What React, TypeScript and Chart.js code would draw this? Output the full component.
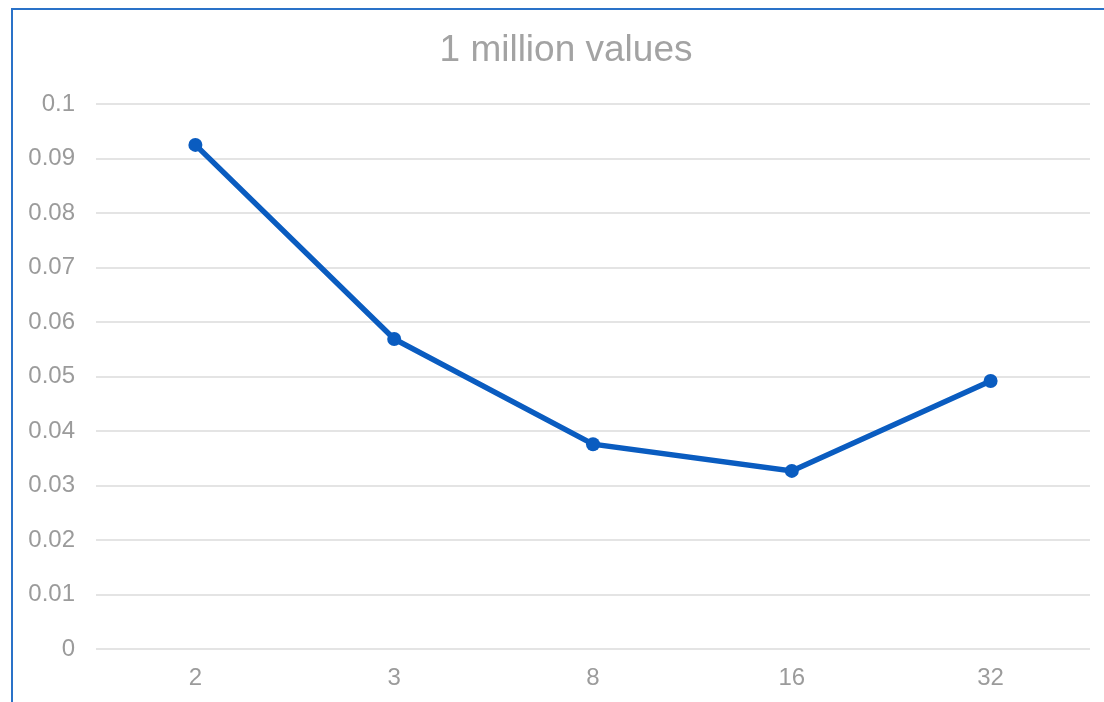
import React, { useEffect, useRef } from "react";
import { Chart, registerables } from "chart.js";

Chart.register(...registerables);

// Thread counts along the x axis and the measured time for each
const categories: string[] = ["2", "3", "8", "16", "32"];
const timings: number[] = [0.0925, 0.0569, 0.0376, 0.0327, 0.0492];
const yTicks: number[] = [0, 0.01, 0.02, 0.03, 0.04, 0.05, 0.06, 0.07, 0.08, 0.09, 0.1];

const chartTitle = "1 million values";
const lineColor = "#0a5cc0";
const textColor = "#9b9b9b";
const FONT = "'Liberation Sans', Arial, sans-serif";

// Title sits a little left of the plot's centre, as in the spreadsheet layout
const TITLE_X = 566;
const TITLE_Y = 51;

const titlePlugin = {
  id: "sheetTitle",
  afterDraw(chart: any) {
    const ctx = chart.ctx;
    ctx.save();
    ctx.font = `normal 37px ${FONT}`;
    ctx.fillStyle = "#a3a3a3";
    ctx.textAlign = "center";
    ctx.textBaseline = "middle";
    ctx.fillText(chartTitle, TITLE_X, TITLE_Y);
    ctx.restore();
  },
};

export default function App() {
  const canvasRef = useRef<HTMLCanvasElement | null>(null);

  useEffect(() => {
    const canvas = canvasRef.current;
    if (!canvas) return;
    const chart = new Chart(canvas, {
      type: "line",
      data: {
        labels: categories,
        datasets: [
          {
            data: timings,
            borderColor: lineColor,
            backgroundColor: lineColor,
            borderWidth: 5.5,
            pointRadius: 7,
            pointBackgroundColor: lineColor,
            pointBorderColor: lineColor,
            pointBorderWidth: 0,
            tension: 0,
            fill: false,
          },
        ],
      },
      options: {
        responsive: false,
        animation: false,
        layout: { padding: { left: 0, right: 14, top: 104, bottom: 10 } },
        plugins: {
          legend: { display: false },
          tooltip: { enabled: false },
          title: { display: false },
        },
        scales: {
          x: {
            offset: true,
            grid: { display: false, drawTicks: false },
            border: { display: false },
            ticks: {
              color: textColor,
              font: { family: FONT, size: 24, lineHeight: 1.2 },
              padding: 15,
              maxRotation: 0,
            },
          },
          y: {
            min: 0,
            max: 0.1,
            afterBuildTicks: (scale: any) => {
              scale.ticks = yTicks.map((v) => ({ value: v }));
            },
            afterFit: (scale: any) => {
              scale.width = 96;
            },
            grid: { color: "#e4e4e4", lineWidth: 2, drawTicks: false },
            border: { display: false },
            ticks: {
              color: textColor,
              font: { family: FONT, size: 24, lineHeight: 1.2 },
              padding: 21,
              callback: (v: any) => String(parseFloat(Number(v).toFixed(2))),
            },
          },
        },
      },
      plugins: [titlePlugin],
    });
    return () => chart.destroy();
  }, []);

  return (
    <div
      style={{
        position: "fixed",
        left: 0,
        top: 0,
        width: 1104,
        height: 702,
        overflow: "hidden",
        background: "#ffffff",
      }}
    >
      <canvas
        ref={canvasRef}
        width={1104}
        height={718}
        style={{ position: "absolute", left: 0, top: 0, width: 1104, height: 718 }}
      />
      <div
        style={{
          position: "absolute",
          left: 11,
          top: 8,
          width: 1200,
          height: 800,
          borderLeft: "2px solid #2a72c8",
          borderTop: "2px solid #2a72c8",
          pointerEvents: "none",
        }}
      />
    </div>
  );
}
